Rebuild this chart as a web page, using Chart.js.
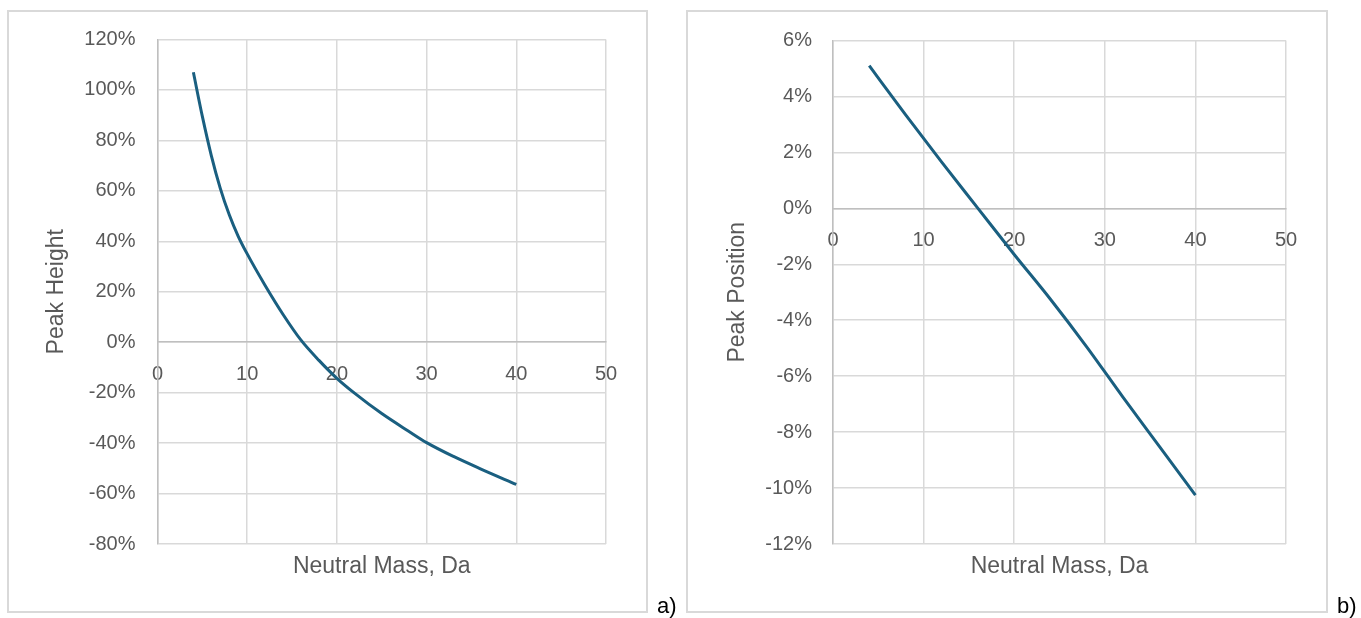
<!DOCTYPE html>
<html>
<head>
<meta charset="utf-8">
<script src="https://cdn.jsdelivr.net/npm/chart.js@4.4.1/dist/chart.umd.min.js"></script>
<style>
  html, body { margin: 0; padding: 0; background: #fff; }
  #page { position: relative; width: 1361px; height: 618px; overflow: hidden; background: #fff;
          font-family: "Liberation Sans", Arial, sans-serif; }
  .frame { position: absolute; box-sizing: border-box; border: 2px solid #d9d9d9; }
  .wrap { position: absolute; top: 0; height: 618px; }
  .tag { position: absolute; font-size: 22px; line-height: 24px; color: #000; }
</style>
</head>
<body>
<div id="page">
  <div class="frame" style="left:7px;top:10px;width:641px;height:603px"></div>
  <div class="frame" style="left:686px;top:10px;width:642px;height:603px"></div>
  <div class="wrap" style="left:0;width:660px"><canvas id="chartA"></canvas></div>
  <div class="wrap" style="left:660px;width:701px"><canvas id="chartB"></canvas></div>
  <div class="tag" style="left:657px;top:594px">a)</div>
  <div class="tag" style="left:1337px;top:594px">b)</div>
</div>
<script>
// Neutral mass (Da) against relative change in peak height (%)
const massA = [4, 5, 6, 7, 8, 9, 10, 12, 14, 16, 18, 20, 22, 25, 28, 30, 33, 36, 40];
const peakHeight = [107, 89.5, 74, 61, 50.5, 42, 35, 22.5, 11, 0.8, -7.2, -14.3, -20.3, -28.3, -35.3, -39.8, -45.3, -50.2, -56.4];

// Neutral mass (Da) against relative shift in peak position (%)
const massB = [4, 8, 12, 16, 20, 24, 28, 32, 36, 40];
const peakPosition = [5.1, 3.35, 1.65, 0.0, -1.65, -3.25, -4.95, -6.75, -8.5, -10.25];

// Axis tick values
const massTicks = [0, 10, 20, 30, 40, 50];
const heightTicks = [-80, -60, -40, -20, 0, 20, 40, 60, 80, 100, 120];
const positionTicks = [-12, -10, -8, -6, -4, -2, 0, 2, 4, 6];

const xTitle = 'Neutral Mass, Da';
const LINE = '#1a5f80';
const GRID = '#d9d9d9';
const AXIS = '#bfbfbf';
const TEXT = '#595959';
const FONT = '"Liberation Sans", Arial, sans-serif';

function setTicks(values) {
  return (scale) => { scale.ticks = values.map(v => ({ value: v })); };
}

function makeChart(canvasId, xs, ys, yTicks, yTitle, cfg) {
  const points = xs.map((x, i) => ({ x: x, y: ys[i] }));
  return new Chart(document.getElementById(canvasId), {
    type: 'scatter',
    data: {
      datasets: [{
        data: points,
        showLine: true,
        borderColor: LINE,
        borderWidth: 3,
        pointRadius: 0,
        cubicInterpolationMode: 'monotone',
        fill: false
      }]
    },
    options: {
      responsive: true,
      maintainAspectRatio: false,
      animation: false,
      events: [],
      layout: { padding: { top: cfg.top, right: cfg.right, bottom: 0, left: 0 } },
      plugins: { legend: { display: false }, tooltip: { enabled: false } },
      scales: {
        x: {
          type: 'linear',
          min: massTicks[0],
          max: massTicks[massTicks.length - 1],
          position: { y: 0 },
          afterBuildTicks: setTicks(massTicks),
          grid: { color: GRID, lineWidth: 1.5, drawTicks: false },
          border: { color: AXIS, width: 1.5 },
          ticks: { color: TEXT, font: { family: FONT, size: 20 }, padding: 20, maxRotation: 0, autoSkip: false }
        },
        xTitle: {
          type: 'linear',
          axis: 'x',
          min: massTicks[0],
          max: massTicks[massTicks.length - 1],
          position: 'bottom',
          grid: { display: false },
          border: { display: false },
          ticks: { display: false },
          title: { display: true, text: xTitle, color: TEXT, font: { family: FONT, size: 23 },
                   padding: { top: 0, bottom: 38 } },
          afterFit: (s) => { s.height = 74; }
        },
        y: {
          type: 'linear',
          min: yTicks[0],
          max: yTicks[yTicks.length - 1],
          position: 'left',
          afterBuildTicks: setTicks(yTicks),
          grid: { color: GRID, lineWidth: 1.5, drawTicks: false },
          border: { color: AXIS, width: 1.5 },
          ticks: { color: TEXT, font: { family: FONT, size: 20 }, padding: cfg.tickPad,
                   callback: (v) => v + '%' },
          title: { display: true, text: yTitle, color: TEXT, font: { family: FONT, size: 23 },
                   padding: { top: cfg.titlePad, bottom: 0 } },
          afterFit: (s) => { s.width = cfg.axisWidth; }
        }
      }
    }
  });
}

makeChart('chartA', massA, peakHeight, heightTicks, 'Peak Height',
  { top: 39.5, right: 54, axisWidth: 157.5, tickPad: 22, titlePad: 43 });
makeChart('chartB', massB, peakPosition, positionTicks, 'Peak Position',
  { top: 40.5, right: 75, axisWidth: 173, tickPad: 21, titlePad: 64 });
</script>
</body>
</html>
